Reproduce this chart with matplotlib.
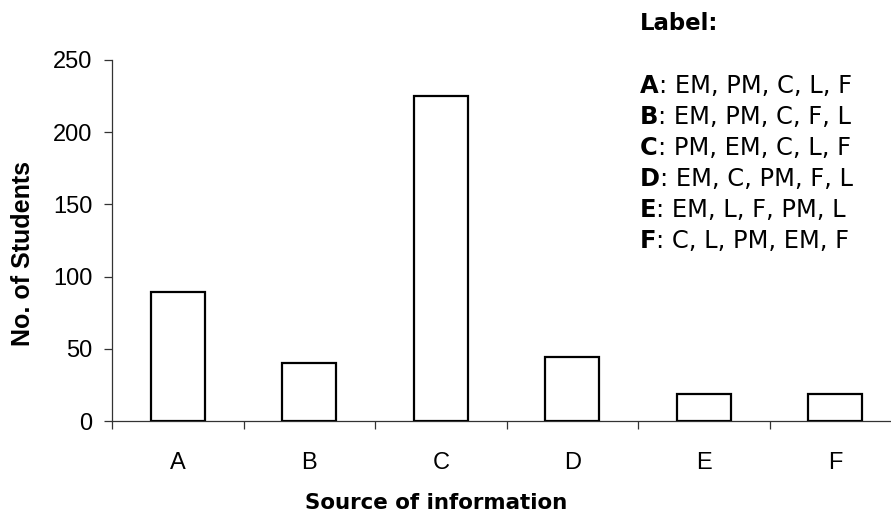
import numpy as np
import matplotlib
matplotlib.use('Agg')
import matplotlib.pyplot as plt

# data
categories = ['A', 'B', 'C', 'D', 'E', 'F']
students = [89, 40, 225, 44, 19, 19]
yticks = [0, 50, 100, 150, 200, 250]
label_codes = ['A', 'B', 'C', 'D', 'E', 'F']
label_texts = ['EM, PM, C, L, F', 'EM, PM, C, F, L', 'PM, EM, C, L, F',
               'EM, C, PM, F, L', 'EM, L, F, PM, L', 'C, L, PM, EM, F']

plt.rcParams['font.family'] = ['Liberation Sans', 'DejaVu Sans']

W, H = 891, 518
fig = plt.figure(figsize=(W / 100, H / 100), dpi=100)
# axes box in pixels: left 112, right 901, top 60, bottom 421
ax = fig.add_axes([112 / W, (H - 421) / H, (901 - 112) / W, (421 - 60) / H])

x = np.arange(len(categories))
ax.bar(x, students, width=0.41, color='white', edgecolor='black', linewidth=1.6, zorder=3)

ax.set_xlim(-0.5, len(categories) - 0.5)
ax.set_ylim(0, 250)
ax.set_yticks(yticks)
ax.set_xticks(x)
ax.set_xticklabels(categories)
ax.set_xticks(np.arange(len(categories) + 1) - 0.5, minor=True)

for s in ['top', 'right']:
    ax.spines[s].set_visible(False)
for s in ['left', 'bottom']:
    ax.spines[s].set_color('#333333')
    ax.spines[s].set_linewidth(0.9)

ax.tick_params(axis='y', direction='out', length=6, width=0.9, color='#333333', pad=8, labelsize=17)
ax.tick_params(axis='x', which='major', length=0, pad=22, labelsize=17)
ax.tick_params(axis='x', which='minor', direction='out', length=6, width=0.9, color='#333333')

fig.text(23 / W, 1 - 253 / H, 'No. of Students', rotation=90, ha='center', va='center',
         family='Liberation Sans', fontweight='bold', fontsize=18)
fig.text(436 / W, 1 - 503 / H, 'Source of information', ha='center', va='center',
         family='DejaVu Sans', fontweight='bold', fontsize=15.4)

# label box on the right
fs = 17.4
fig.text(640 / W, 1 - 23 / H, 'Label:', ha='left', va='center',
         family='DejaVu Sans', fontweight='bold', fontsize=16.4)
y0 = 86
for i, (code, txt) in enumerate(zip(label_codes, label_texts)):
    yy = 1 - (y0 + i * 31) / H
    t = fig.text(640 / W, yy, code, ha='left', va='center',
                 family='DejaVu Sans', fontweight='bold', fontsize=fs)
    fig.canvas.draw()
    bb = t.get_window_extent()
    fig.text(bb.x1 / W, yy, ': ' + txt, ha='left', va='center',
             family='DejaVu Sans', fontsize=fs)

fig.savefig('out.png', dpi=100)
